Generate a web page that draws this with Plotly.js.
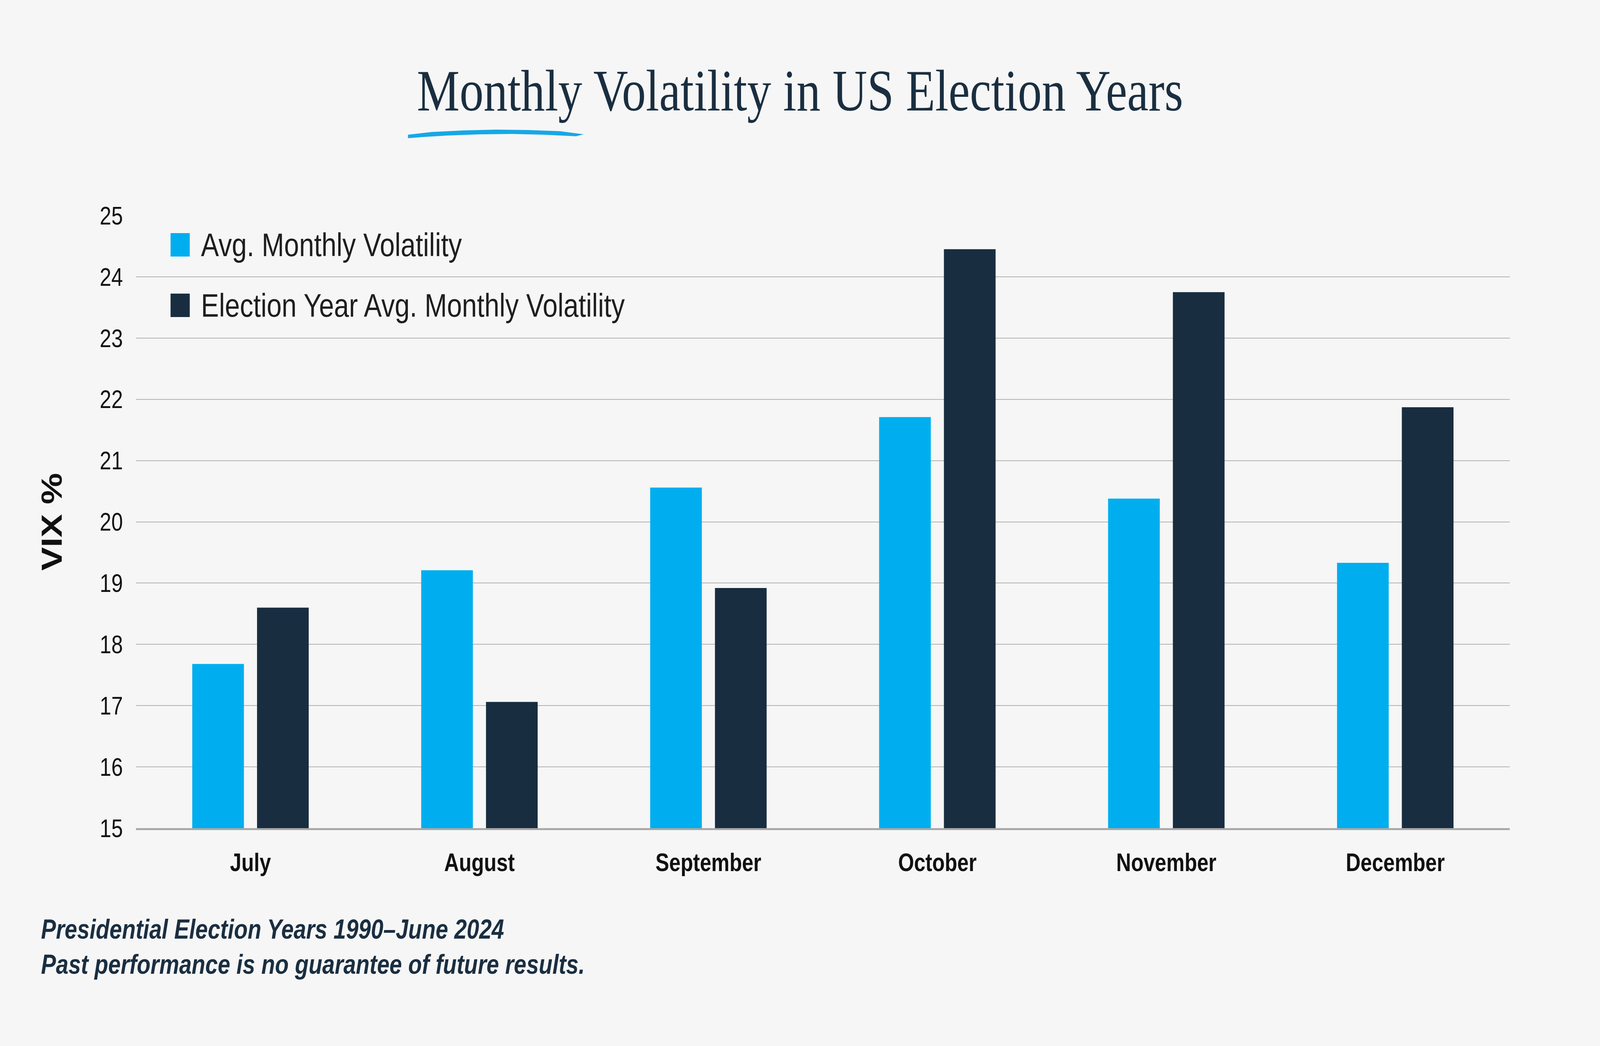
<!DOCTYPE html>
<html>
<head>
<meta charset="utf-8">
<script src="https://cdn.plot.ly/plotly-3.0.1.min.js"></script>
<style>
  html, body { margin: 0; padding: 0; background: #f6f6f6; overflow: hidden; }
  #chart { position: absolute; left: 0; top: 0; width: 5000px; height: 2679px; transform-origin: 0 0; }
</style>
</head>
<body>
<div id="chart"></div>
<script>
// ---- data ----
const months = ['July', 'August', 'September', 'October', 'November', 'December'];
const avgMonthlyVol = [17.68, 19.21, 20.56, 21.71, 20.38, 19.33];
const electionYearVol = [18.60, 17.06, 18.92, 24.45, 23.75, 21.87];
const seriesNames = ['Avg. Monthly Volatility', 'Election Year Avg. Monthly Volatility'];
const yTickVals = [15, 16, 17, 18, 19, 20, 21, 22, 23, 24, 25];

const chartTitle = 'Monthly Volatility in US Election Years';
const yTitle = 'VIX %';
const footLines = ['Presidential Election Years 1990\u2013June 2024', 'Past performance is no guarantee of future results.'];

// ---- styling ----
const W = 5000, H = 2679;
const M = { l: 425, r: 282, t: 552, b: 558 };
const colors = ['#00aeef', '#182d40'];
const navy = '#1a2e40';
const bg = '#f6f6f6';

// fit the 5000x2679 design into whatever viewport the browser really has
const chartDiv = document.getElementById('chart');
const vw = window.innerWidth || W, vh = window.innerHeight || H;
if (Math.abs(vw - W) > 1 || Math.abs(vh - H) > 1) {
  chartDiv.style.transform = 'scale(' + (vw / W) + ',' + (vh / H) + ')';
}

// pixel -> paper helpers (for decorations only)
const PW = W - M.l - M.r, PH = H - M.t - M.b;
const px = x => (x - M.l) / PW;
const py = y => (H - M.b - y) / PH;

const traces = [
  { type: 'bar', x: months, y: avgMonthlyVol, name: seriesNames[0], marker: { color: colors[0] }, hoverinfo: 'skip' },
  { type: 'bar', x: months, y: electionYearVol, name: seriesNames[1], marker: { color: colors[1] }, hoverinfo: 'skip' }
];

// legend (custom, large squares)
const legendRows = [627, 782];
const shapes = [];
const annotations = [];
seriesNames.forEach((n, i) => {
  const cy = legendRows[i];
  shapes.push({ type: 'rect', xref: 'paper', yref: 'paper', x0: px(533), x1: px(593), y0: py(cy - 30), y1: py(cy + 30), fillcolor: colors[i], line: { width: 0 } });
  annotations.push({ xref: 'paper', yref: 'paper', x: px(626), y: py(cy), xanchor: 'left', yanchor: 'middle', showarrow: false, text: n, font: { family: 'Liberation Sans', size: 84, color: '#1e1e1e' } });
});

// footnote
const footY = [2380, 2470];
footLines.forEach((t, i) => {
  annotations.push({ xref: 'paper', yref: 'paper', x: px(126), y: py(footY[i]), xanchor: 'left', yanchor: 'middle', showarrow: false, text: '<b><i>' + t + '</i></b>', font: { family: 'Liberation Sans', size: 70, color: navy } });
});

// brush swoosh under the title
const swTop = [[1275, 345], [1350, 338], [1450, 334], [1550, 332], [1650, 333], [1750, 336], [1824, 344]];
const swBot = [[1800, 349], [1700, 345], [1600, 343], [1500, 344], [1400, 347], [1320, 351], [1275, 354]];
let swPath = 'M' + px(swTop[0][0]) + ',' + py(swTop[0][1]);
swTop.slice(1).concat(swBot).forEach(p => { swPath += ' L' + px(p[0]) + ',' + py(p[1]); });
swPath += ' Z';
shapes.push({ type: 'path', xref: 'paper', yref: 'paper', path: swPath, fillcolor: '#16a8e6', line: { width: 0 } });

const layout = {
  width: W, height: H,
  paper_bgcolor: bg, plot_bgcolor: bg,
  margin: M,
  showlegend: false,
  barmode: 'group',
  bargap: 0.434,
  bargroupgap: 0.2025,
  title: {
    text: chartTitle,
    font: { family: 'Liberation Serif', size: 150, color: navy },
    xref: 'container', x: 0.5, xanchor: 'center',
    yref: 'container', y: 1 - 231 / H, yanchor: 'middle'
  },
  xaxis: {
    type: 'category',
    showgrid: false,
    showline: true, linecolor: '#a8a8a8', linewidth: 5,
    ticks: '',
    ticklabelstandoff: 28,
    tickfont: { family: 'Liberation Sans', size: 64, color: '#111', weight: 'bold' },
    automargin: false, fixedrange: true
  },
  yaxis: {
    range: [15, 25],
    tickvals: yTickVals,
    ticktext: yTickVals.map(String),
    showgrid: true, gridcolor: '#b2b2b2', gridwidth: 2,
    zeroline: false, showline: false,
    ticks: '',
    ticklabelstandoff: 40,
    tickfont: { family: 'Liberation Sans', size: 65, color: '#111' },
    title: { text: yTitle, font: { family: 'Liberation Sans', size: 90, color: '#111', weight: 'bold' }, standoff: 88 },
    automargin: false, fixedrange: true
  },
  shapes: shapes,
  annotations: annotations
};

Plotly.newPlot('chart', traces, layout, { staticPlot: true, displayModeBar: false });
</script>
</body>
</html>
